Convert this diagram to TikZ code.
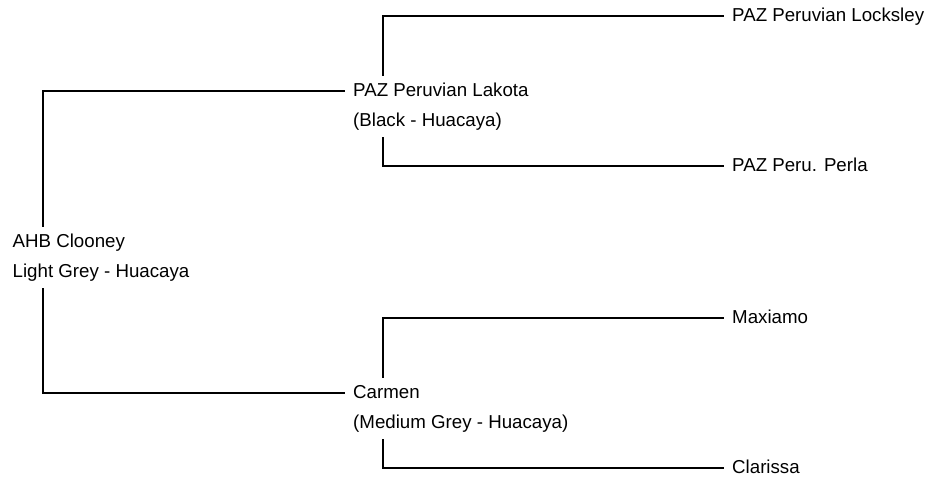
\documentclass[tikz,border=0pt]{standalone}
\usepackage{fontspec}
\setmainfont{Liberation Sans}
\usetikzlibrary{backgrounds}
\tikzset{
  alpaca/.style={anchor=base west, fill=white, inner xsep=8pt, inner ysep=7pt, text height=14pt, text depth=3pt, font=\fontsize{18.7}{22}\selectfont},
  link/.style={line width=1.2pt}
}

\begin{document}
\begin{tikzpicture}[x=1pt, y=-1pt]
	\useasboundingbox (0,0) rectangle (926,480);
	% sire side
	\node[alpaca] (locksley) at (724,21.5) {PAZ Peruvian Locksley};
	\node[alpaca] (lakota) at (345,96.5) {PAZ Peruvian Lakota};
	\node[alpaca] (lakotacol) at (345,126.5) {(Black - Huacaya)};
	\node[alpaca] (perla) at (724,171.5) {PAZ Peru. Perla};
	% the animal itself
	\node[alpaca] (clooney) at (4.5,247.5) {AHB Clooney};
	\node[alpaca] (clooneycol) at (4.5,277.5) {Light Grey - Huacaya};
	% dam side
	\node[alpaca] (maxiamo) at (724,323.5) {Maxiamo};
	\node[alpaca] (carmen) at (345,398.5) {Carmen};
	\node[alpaca] (carmencol) at (345,428.5) {(Medium Grey - Huacaya)};
	\node[alpaca] (clarissa) at (724,473.5) {Clarissa};
	\begin{scope}[on background layer]
		\draw[link] (lakota.west) -| ([xshift=38.5pt]clooney.west) |- (carmen.west);
		\draw[link] (locksley.west) -| ([xshift=38pt]lakota.west) |- (perla.west);
		\draw[link] (maxiamo.west) -| ([xshift=38pt]carmen.west) |- (clarissa.west);
	\end{scope}
\end{tikzpicture}
\end{document}
